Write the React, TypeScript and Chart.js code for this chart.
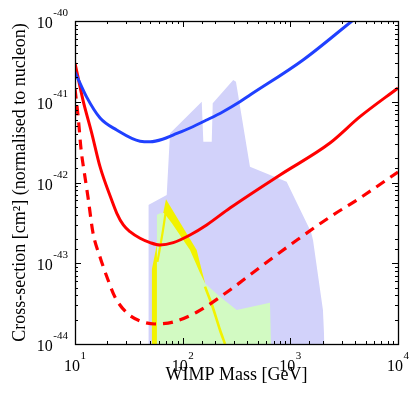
import React, { useEffect, useRef } from "react";
import { Chart, registerables } from "chart.js";

Chart.register(...registerables);

// ---- Data (WIMP mass in GeV, cross-section in cm^2) ----
const xMin = 10;
const xMax = 10000;
const yMin = 1e-44;
const yMax = 1e-40;

const xTitle = "WIMP Mass [GeV]";
const yTitle = "Cross-section [cm\u00B2] (normalised to nucleon)";

// Blue limit curve
const blueMass = [10, 12.8, 17.1, 24.4, 40.2, 50, 66, 81.3, 117, 167, 237, 340, 422, 1312, 3740];
const blueSigma = [2.33e-41, 1.15e-41, 6.3e-42, 4.47e-42, 3.25e-42, 3.2e-42, 3.46e-42, 3.87e-42, 4.73e-42, 5.94e-42, 7.53e-42, 1.0e-41, 1.21e-41, 3.29e-41, 1.0e-40];

// Red solid limit curve
const redMass = [10, 11.86, 14.3, 17.1, 21.9, 24.4, 28.1, 32.4, 40.2, 49.8, 61.5, 81.8, 117, 167, 275, 802, 2333, 4436, 10000];
const redSigma = [3.02e-41, 1.05e-41, 4.1e-42, 1.56e-42, 6.07e-43, 4.19e-43, 2.98e-43, 2.46e-43, 2.04e-43, 1.8e-43, 1.68e-43, 1.8e-43, 2.24e-43, 2.98e-43, 4.83e-43, 1.24e-42, 3.08e-42, 6.53e-42, 1.48e-41];

// Red dashed projected curve
const dashMass = [10, 10.7, 11.4, 12.1, 13.2, 14.7, 17.1, 19.8, 23.5, 30.4, 40.2, 55.3, 81.3, 136, 275, 557, 1153, 2333, 4436, 10000];
const dashSigma = [1.45e-41, 6.47e-42, 2.52e-42, 1.43e-42, 6.61e-43, 2.37e-43, 1.19e-43, 6.76e-44, 3.82e-44, 2.42e-44, 1.93e-44, 1.77e-44, 1.87e-44, 2.49e-44, 4.67e-44, 9.51e-44, 1.94e-43, 3.74e-43, 6.43e-43, 1.35e-42];

// Lavender allowed region
const lavMass = [48, 48, 71.1, 76.3, 150.4, 155.6, 186.2, 190.2, 295, 312.6, 421.7, 924, 1556, 1624, 2009, 2075];
const lavSigma = [1e-44, 5.26e-43, 7.0e-43, 4.06e-42, 1.0e-41, 3.2e-42, 3.2e-42, 9.57e-42, 1.86e-41, 1.77e-41, 1.57e-42, 1.02e-42, 2.44e-43, 1.94e-43, 2.64e-44, 1e-44];

// Yellow allowed region (outer contour)
const yelMass = [51.6, 51.6, 70.0, 134.9, 161.2, 161.2];
const yelSigma = [1e-44, 8.24e-44, 6.19e-43, 1.46e-43, 5.69e-44, 1e-44];

// Green allowed region
const grnMass = [57.4, 57.4, 61.6, 67.1, 79.1, 117, 144.9, 161.2, 167.2, 222.2, 317.6, 647, 661];
const grnSigma = [1e-44, 3.96e-43, 4.16e-43, 4.19e-43, 3.15e-43, 1.46e-43, 7.57e-44, 5.69e-44, 5.38e-44, 3.85e-44, 2.64e-44, 3.24e-44, 1e-44];

// Yellow thin contour pieces
const yelInnerMass = [70.0, 65.7, 62.2, 58.3];
const yelInnerSigma = [4.56e-43, 2.58e-43, 1.68e-43, 1.04e-43];
const yelLowerMass = [161.2, 187.3, 222.2, 247.4];
const yelLowerSigma = [5.13e-44, 3.04e-44, 1.49e-44, 1e-44];

const pts = (xs: number[], ys: number[]) => xs.map((x, i) => ({ x, y: ys[i] }));

const FAMILY = "'Liberation Serif', 'DejaVu Serif', 'Times New Roman', serif";

const isDecade = (v: number) => {
  const l = Math.log10(v);
  return Math.abs(l - Math.round(l)) < 1e-6;
};

function drawPow(ctx: CanvasRenderingContext2D, exp: number, x: number, baseY: number, align: "center" | "right") {
  const base = "10";
  const sup = String(exp);
  ctx.font = `16px ${FAMILY}`;
  const w1 = ctx.measureText(base).width;
  ctx.font = `11px ${FAMILY}`;
  const w2 = ctx.measureText(sup).width;
  const total = w1 + w2 + 0.5;
  const start = align === "center" ? x - total / 2 : x - total;
  ctx.textAlign = "left";
  ctx.textBaseline = "alphabetic";
  ctx.font = `16px ${FAMILY}`;
  ctx.fillText(base, start, baseY);
  ctx.font = `11px ${FAMILY}`;
  ctx.fillText(sup, start + w1 + 0.5, baseY - 12);
}

const framePlugin = {
  id: "frameTicks",
  afterDatasetsDraw(chart: any) {
    const { ctx, chartArea: a, scales } = chart;
    ctx.save();
    ctx.strokeStyle = "#000";
    ctx.lineWidth = 1;
    ctx.beginPath();
    for (const t of scales.x.ticks) {
      const px = Math.round(scales.x.getPixelForValue(t.value)) + 0.5;
      const len = isDecade(t.value) ? 6 : 3;
      ctx.moveTo(px, a.bottom);
      ctx.lineTo(px, a.bottom - len);
      ctx.moveTo(px, a.top);
      ctx.lineTo(px, a.top + len);
    }
    for (const t of scales.y.ticks) {
      const py = Math.round(scales.y.getPixelForValue(t.value)) + 0.5;
      const len = isDecade(t.value) ? 6 : 3;
      ctx.moveTo(a.left, py);
      ctx.lineTo(a.left + len, py);
      ctx.moveTo(a.right, py);
      ctx.lineTo(a.right - len, py);
    }
    ctx.stroke();
    ctx.lineWidth = 1.3;
    ctx.strokeRect(Math.round(a.left) + 0.5, Math.round(a.top) + 0.5, Math.round(a.right - a.left), Math.round(a.bottom - a.top));

    // decade tick labels with superscript exponents
    ctx.fillStyle = "#000";
    for (const t of scales.x.ticks) {
      if (!isDecade(t.value)) continue;
      const px = scales.x.getPixelForValue(t.value);
      drawPow(ctx, Math.round(Math.log10(t.value)), px, a.bottom + 26.5, "center");
    }
    for (const t of scales.y.ticks) {
      if (!isDecade(t.value)) continue;
      const py = scales.y.getPixelForValue(t.value);
      drawPow(ctx, Math.round(Math.log10(t.value)), a.left - 7, py + 7, "right");
    }
    ctx.restore();
  },
};

export default function App() {
  const ref = useRef<HTMLCanvasElement>(null);
  useEffect(() => {
    if (!ref.current) return;
    const curve = { showLine: true, pointRadius: 0, fill: false, cubicInterpolationMode: "monotone" };
    const region = { showLine: true, pointRadius: 0, borderWidth: 0, borderColor: "rgba(0,0,0,0)", tension: 0, fill: "start" };
    const chart = new Chart(ref.current, {
      type: "scatter",
      data: {
        datasets: [
          { ...curve, data: pts(blueMass, blueSigma), borderColor: "#2040ff", borderWidth: 3, order: 1 },
          { ...curve, data: pts(redMass, redSigma), borderColor: "#ff0000", borderWidth: 3, order: 2 },
          { ...curve, data: pts(dashMass, dashSigma), borderColor: "#ff0000", borderWidth: 3.2, borderDash: [10, 7], order: 3 },
          { showLine: true, pointRadius: 0, fill: false, tension: 0.3, data: pts(yelInnerMass, yelInnerSigma), borderColor: "#f2f200", borderWidth: 2.2, order: 6 },
          { showLine: true, pointRadius: 0, fill: false, tension: 0.3, data: pts(yelLowerMass, yelLowerSigma), borderColor: "#f2f200", borderWidth: 2.6, order: 6 },
          { ...region, data: pts(grnMass, grnSigma), backgroundColor: "#d2fac2", order: 8 },
          { ...region, data: pts(yelMass, yelSigma), backgroundColor: "#f2f200", order: 9 },
          { ...region, data: pts(lavMass, lavSigma), backgroundColor: "#d2d2fa", order: 10 },
        ],
      },
      options: {
        animation: false,
        responsive: false,
        maintainAspectRatio: false,
        layout: { padding: { top: 21, right: 17, left: 0, bottom: 0 } },
        plugins: { legend: { display: false }, tooltip: { enabled: false } },
        scales: {
          x: {
            type: "logarithmic",
            min: xMin,
            max: xMax,
            grid: { display: false },
            border: { display: false },
            afterFit: (s: any) => { s.height = 53; },
            ticks: { display: false, autoSkip: false },
            title: {
              display: true,
              text: xTitle,
              color: "#000",
              font: { family: FAMILY, size: 18 },
              padding: { top: 0, bottom: 11 },
            },
          },
          y: {
            type: "logarithmic",
            min: yMin,
            max: yMax,
            grid: { display: false },
            border: { display: false },
            afterFit: (s: any) => { s.width = 75; },
            ticks: { display: false, autoSkip: false },
            title: {
              display: true,
              text: yTitle,
              color: "#000",
              font: { family: FAMILY, size: 18 },
              padding: { top: 9, bottom: 0 },
            },
          },
        },
      },
      plugins: [framePlugin],
    } as any);
    return () => chart.destroy();
  }, []);
  return (
    <div style={{ position: "absolute", left: 0, top: 0, width: 415, height: 397, background: "#fff" }}>
      <canvas ref={ref} width={415} height={397} />
    </div>
  );
}
